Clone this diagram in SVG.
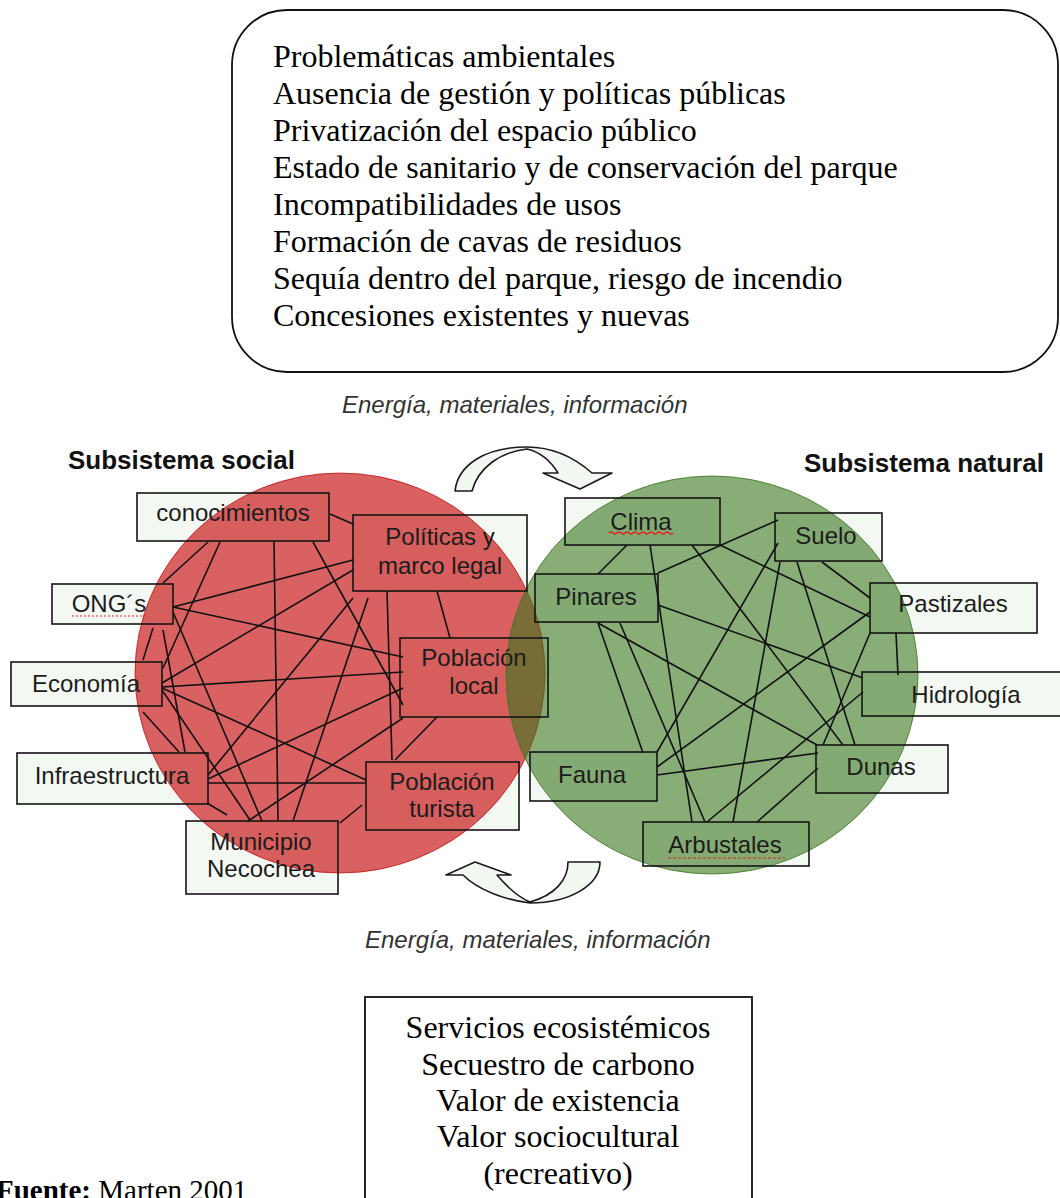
<svg xmlns="http://www.w3.org/2000/svg" width="1060" height="1198" viewBox="0 0 1060 1198">
<defs>
<style>
.fillbox{fill:#f3f8f2;stroke:none}
.box{fill:none;stroke:#141414;stroke-width:1.6}
.lbl{font-family:"Liberation Sans",Arial,sans-serif;font-size:24px;fill:#1c1c1c;text-anchor:middle}
.ser{font-family:"Liberation Serif","Times New Roman",serif;font-size:32px;fill:#000}
.src{font-family:"Liberation Serif","Times New Roman",serif;font-size:29px;fill:#000}
.flow{font-family:"Liberation Sans",Arial,sans-serif;font-size:24px;font-style:italic;fill:#333}
.sub{font-family:"Liberation Sans",Arial,sans-serif;font-size:26px;font-weight:bold;fill:#111}
.conn line{stroke:#111;stroke-width:1.6}
.arrow{fill:#f2f7f2;stroke:#1a1a1a;stroke-width:1.6;stroke-linejoin:round}
.spell{fill:none;stroke:#e02020;stroke-width:1.2}
</style>
</defs>
<rect width="1060" height="1198" fill="#fff"/>

<g id="problems-box">
<rect x="232" y="10" width="826" height="362" rx="55" ry="55" fill="#fff" stroke="#111" stroke-width="1.8"/>
<text class="ser" x="273" y="67">Problemáticas ambientales</text>
<text class="ser" x="273" y="104">Ausencia de gestión y políticas públicas</text>
<text class="ser" x="273" y="141">Privatización del espacio público</text>
<text class="ser" x="273" y="178">Estado de sanitario y de conservación del parque</text>
<text class="ser" x="273" y="215">Incompatibilidades de usos</text>
<text class="ser" x="273" y="252">Formación de cavas de residuos</text>
<text class="ser" x="273" y="289">Sequía dentro del parque, riesgo de incendio</text>
<text class="ser" x="273" y="326">Concesiones existentes y nuevas</text>
</g>

<text class="flow" x="342" y="413">Energía, materiales, información</text>
<text class="sub" x="68" y="469">Subsistema social</text>
<text class="sub" x="804" y="472">Subsistema natural</text>

<g id="box-fills">
<rect class="fillbox" x="137" y="493" width="192" height="48"/>
<rect class="fillbox" x="353" y="515" width="174" height="76"/>
<rect class="fillbox" x="52" y="584" width="121" height="40"/>
<rect class="fillbox" x="11" y="662" width="151" height="44"/>
<rect class="fillbox" x="17" y="753" width="191" height="51"/>
<rect class="fillbox" x="186" y="821" width="152" height="73"/>
<rect class="fillbox" x="400" y="638" width="148" height="79"/>
<rect class="fillbox" x="366" y="762" width="153" height="68"/>
<rect class="fillbox" x="565" y="498" width="155" height="47"/>
<rect class="fillbox" x="775" y="513" width="107" height="48"/>
<rect class="fillbox" x="535" y="574" width="123" height="48"/>
<rect class="fillbox" x="870" y="583" width="167" height="50"/>
<rect class="fillbox" x="862" y="672" width="210" height="44"/>
<rect class="fillbox" x="530" y="752" width="127" height="49"/>
<rect class="fillbox" x="816" y="745" width="132" height="48"/>
<rect class="fillbox" x="643" y="822" width="166" height="44"/>
</g>

<g id="circles">
<ellipse id="social-circle" cx="340" cy="673" rx="205" ry="200" fill="#c40000" fill-opacity="0.62" stroke="#c00000" stroke-opacity="0.7" stroke-width="1"/>
<ellipse id="natural-circle" cx="712" cy="675" rx="206" ry="199" fill="#38761d" fill-opacity="0.6" stroke="#38761d" stroke-opacity="0.8" stroke-width="1"/>
</g>

<g id="flow-arrows">
<path class="arrow" d="M455,491 C458,465 485,447 527,447 C555,447 575,458 592,473 L612,473 L580,489 L543,473 L558,473 C550,460 540,452 527,449 C500,452 478,468 472,491 Z"/>
<path class="arrow" d="M600,862 C600,885 570,903 530,903 C505,900 478,890 463,875 L446,875 L475,862 L511,875 L497,875 C508,888 518,897 530,902 C555,895 568,880 568,862 Z"/>
</g>

<g id="connectors" class="conn">
<line x1="330" y1="514" x2="353" y2="524"/>
<line x1="208" y1="542" x2="163" y2="583"/>
<line x1="220" y1="542" x2="163" y2="668"/>
<line x1="274" y1="542" x2="278" y2="820"/>
<line x1="313" y1="542" x2="403" y2="705"/>
<line x1="173" y1="607" x2="353" y2="560"/>
<line x1="173" y1="607" x2="403" y2="657"/>
<line x1="173" y1="612" x2="262" y2="821"/>
<line x1="153" y1="628" x2="143" y2="660"/>
<line x1="163" y1="630" x2="185" y2="752"/>
<line x1="162" y1="683" x2="353" y2="570"/>
<line x1="162" y1="687" x2="403" y2="672"/>
<line x1="162" y1="688" x2="366" y2="780"/>
<line x1="162" y1="690" x2="250" y2="820"/>
<line x1="143" y1="712" x2="179" y2="752"/>
<line x1="353" y1="598" x2="208" y2="775"/>
<line x1="368" y1="598" x2="293" y2="821"/>
<line x1="387" y1="591" x2="392" y2="760"/>
<line x1="437" y1="591" x2="450" y2="638"/>
<line x1="208" y1="779" x2="403" y2="688"/>
<line x1="208" y1="783" x2="366" y2="783"/>
<line x1="207" y1="803" x2="227" y2="815"/>
<line x1="403" y1="718" x2="248" y2="821"/>
<line x1="437" y1="717" x2="395" y2="760"/>
<line x1="362" y1="805" x2="340" y2="823"/>
<line x1="627" y1="545" x2="598" y2="574"/>
<line x1="650" y1="545" x2="692" y2="822"/>
<line x1="692" y1="545" x2="843" y2="745"/>
<line x1="720" y1="545" x2="870" y2="617"/>
<line x1="658" y1="573" x2="778" y2="520"/>
<line x1="658" y1="605" x2="863" y2="678"/>
<line x1="598" y1="623" x2="643" y2="753"/>
<line x1="598" y1="623" x2="817" y2="745"/>
<line x1="620" y1="623" x2="705" y2="822"/>
<line x1="778" y1="543" x2="657" y2="752"/>
<line x1="780" y1="562" x2="733" y2="822"/>
<line x1="797" y1="562" x2="855" y2="745"/>
<line x1="822" y1="562" x2="870" y2="598"/>
<line x1="896" y1="633" x2="898" y2="675"/>
<line x1="870" y1="633" x2="823" y2="745"/>
<line x1="657" y1="767" x2="870" y2="612"/>
<line x1="657" y1="775" x2="818" y2="753"/>
<line x1="707" y1="822" x2="863" y2="692"/>
<line x1="757" y1="822" x2="818" y2="768"/>
</g>

<g id="node-conocimientos"><rect class="box" x="137" y="493" width="192" height="48"/><text class="lbl" x="233" y="521">conocimientos</text></g>
<g id="node-politicas"><rect class="box" x="353" y="515" width="174" height="76"/><text class="lbl" x="440" y="545">Políticas y</text><text class="lbl" x="440" y="574">marco legal</text></g>
<g id="node-ongs"><rect class="box" x="52" y="584" width="121" height="40"/><text class="lbl" x="109" y="612">ONG´s</text><path class="spell" d="M72,616 H146" stroke-dasharray="2,2"/></g>
<g id="node-economia"><rect class="box" x="11" y="662" width="151" height="44"/><text class="lbl" x="86" y="692">Economía</text></g>
<g id="node-infraestructura"><rect class="box" x="17" y="753" width="191" height="51"/><text class="lbl" x="112" y="784">Infraestructura</text></g>
<g id="node-municipio"><rect class="box" x="186" y="821" width="152" height="73"/><text class="lbl" x="261" y="850">Municipio</text><text class="lbl" x="261" y="877">Necochea</text></g>
<g id="node-poblacion-local"><rect class="box" x="400" y="638" width="148" height="79"/><text class="lbl" x="474" y="666">Población</text><text class="lbl" x="474" y="694">local</text></g>
<g id="node-poblacion-turista"><rect class="box" x="366" y="762" width="153" height="68"/><text class="lbl" x="442" y="790">Población</text><text class="lbl" x="442" y="817">turista</text></g>
<g id="node-clima"><rect class="box" x="565" y="498" width="155" height="47"/><text class="lbl" x="641" y="530">Clima</text><path class="spell" d="M609,533 q2,-2 4,0 t4,0 t4,0 t4,0 t4,0 t4,0 t4,0 t4,0 t4,0 t4,0 t4,0 t4,0 t4,0 t4,0 t4,0 t4,0"/></g>
<g id="node-suelo"><rect class="box" x="775" y="513" width="107" height="48"/><text class="lbl" x="826" y="544">Suelo</text></g>
<g id="node-pinares"><rect class="box" x="535" y="574" width="123" height="48"/><text class="lbl" x="596" y="605">Pinares</text></g>
<g id="node-pastizales"><rect class="box" x="870" y="583" width="167" height="50"/><text class="lbl" x="953" y="612">Pastizales</text></g>
<g id="node-hidrologia"><rect class="box" x="862" y="672" width="210" height="44"/><text class="lbl" x="966" y="703">Hidrología</text></g>
<g id="node-fauna"><rect class="box" x="530" y="752" width="127" height="49"/><text class="lbl" x="592" y="783">Fauna</text></g>
<g id="node-dunas"><rect class="box" x="816" y="745" width="132" height="48"/><text class="lbl" x="881" y="775">Dunas</text></g>
<g id="node-arbustales"><rect class="box" x="643" y="822" width="166" height="44"/><text class="lbl" x="725" y="853">Arbustales</text><path class="spell" d="M668,858 H785" stroke-dasharray="3,2"/></g>

<text class="flow" x="365" y="948">Energía, materiales, información</text>

<g id="services-box">
<rect x="365" y="997" width="387" height="220" fill="#fff" stroke="#111" stroke-width="1.8"/>
<text class="ser" x="558" y="1038" text-anchor="middle">Servicios ecosistémicos</text>
<text class="ser" x="558" y="1075" text-anchor="middle">Secuestro de carbono</text>
<text class="ser" x="558" y="1111" text-anchor="middle">Valor de existencia</text>
<text class="ser" x="558" y="1147" text-anchor="middle">Valor sociocultural</text>
<text class="ser" x="558" y="1184" text-anchor="middle">(recreativo)</text>
</g>

<text class="src" x="-4" y="1200"><tspan font-weight="bold">Fuente:</tspan> Marten 2001</text>
</svg>
